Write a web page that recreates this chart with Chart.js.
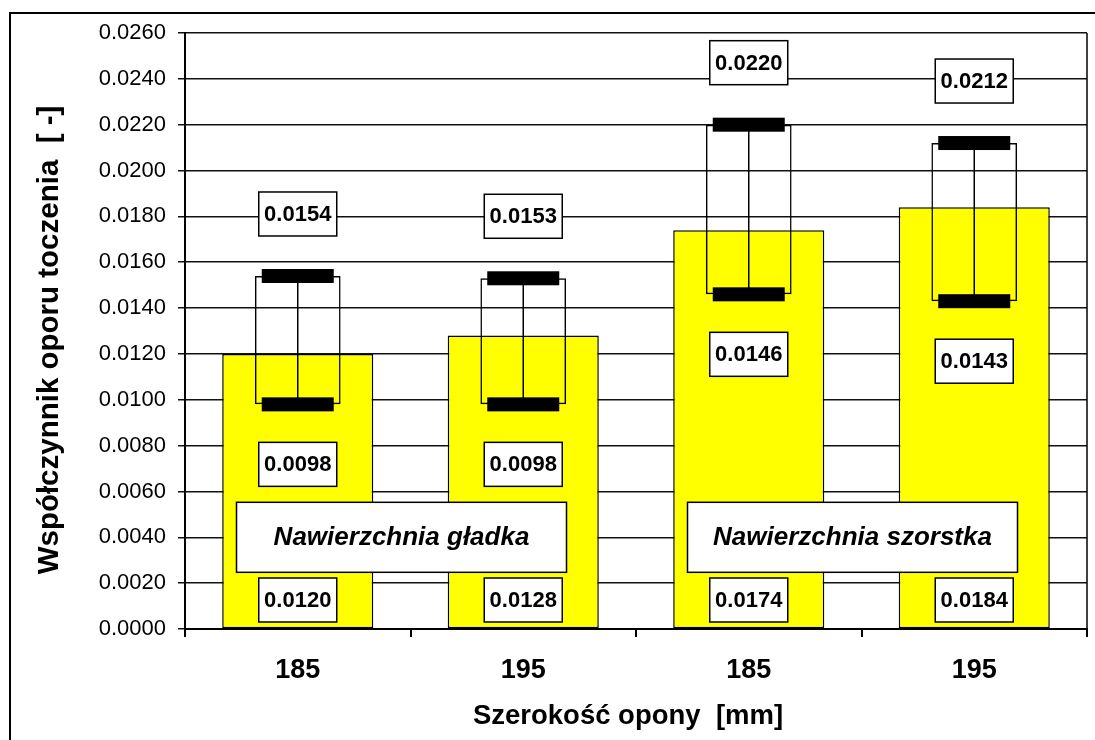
<!DOCTYPE html>
<html>
<head>
<meta charset="utf-8">
<script src="https://cdn.jsdelivr.net/npm/chart.js@4"></script>
<style>
  html, body { margin: 0; padding: 0; background: #fff; }
  #wrap { width: 1095px; height: 740px; }
</style>
</head>
<body>
<div id="wrap"><canvas id="myChart" width="1095" height="740"></canvas></div>
<script>
// data
const categories = ['185', '195', '185', '195'];
const meanValues = [0.0120, 0.0128, 0.0174, 0.0184];
const maxValues = [0.0154, 0.0153, 0.0220, 0.0212];
const minValues = [0.0098, 0.0098, 0.0146, 0.0143];
const surfaceLabels = ['Nawierzchnia gładka', 'Nawierzchnia szorstka'];
const surfaceGroups = [[0, 1], [2, 3]];
const xTitle = 'Szerokość opony  [mm]';
const yTitle = 'Współczynnik oporu toczenia  [ -]';

const FONT = "'Liberation Sans', Arial, sans-serif";

const fmt = v => v.toFixed(4);

function labelBox(ctx, text, cx, cy, w, h, font) {
  ctx.save();
  ctx.fillStyle = '#fff';
  ctx.strokeStyle = '#000';
  ctx.lineWidth = 1.5;
  ctx.fillRect(cx - w / 2, cy - h / 2, w, h);
  ctx.strokeRect(cx - w / 2, cy - h / 2, w, h);
  ctx.fillStyle = '#000';
  ctx.font = font;
  ctx.textAlign = 'center';
  ctx.textBaseline = 'middle';
  ctx.fillText(text, cx, cy + 1);
  ctx.restore();
}

// frame round the whole chart, right edge of the plot area, axis titles
const framePlugin = {
  id: 'frame',
  beforeDraw(chart) {
    const ctx = chart.ctx;
    ctx.save();
    ctx.strokeStyle = '#000';
    ctx.lineWidth = 2;
    ctx.strokeRect(10, 13, 1100, 760);
    ctx.restore();
  },
  afterDraw(chart) {
    const { ctx, chartArea } = chart;
    ctx.save();
    ctx.strokeStyle = '#000';
    ctx.lineWidth = 1.5;
    ctx.beginPath();
    ctx.moveTo(chartArea.right, chartArea.top);
    ctx.lineTo(chartArea.right, chartArea.bottom);
    ctx.stroke();

    ctx.fillStyle = '#000';
    ctx.textAlign = 'center';
    ctx.textBaseline = 'middle';
    ctx.font = 'bold 27.5px ' + FONT;
    ctx.fillText(xTitle, 628, 716);

    ctx.translate(50, 340);
    ctx.rotate(-Math.PI / 2);
    ctx.font = 'bold 29.5px ' + FONT;
    ctx.fillText(yTitle, 0, 0);
    ctx.restore();
  }
};

// whiskers, thick markers and value labels
const rangePlugin = {
  id: 'rangeMarks',
  afterDatasetsDraw(chart) {
    const { ctx, scales: { x, y }, chartArea } = chart;
    const labelFont = 'bold 22px ' + FONT;
    ctx.save();
    categories.forEach((c, i) => {
      const cx = x.getPixelForValue(i);
      const yHi = y.getPixelForValue(maxValues[i]);
      const yLo = y.getPixelForValue(minValues[i]);
      ctx.strokeStyle = '#000';
      ctx.lineWidth = 1.5;
      ctx.beginPath();
      ctx.moveTo(cx, yHi);
      ctx.lineTo(cx, yLo);
      ctx.stroke();
      ctx.fillStyle = '#000';
      ctx.fillRect(cx - 36, yHi - 7, 72, 14);
      ctx.fillRect(cx - 36, yLo - 7, 72, 14);
    });
    ctx.restore();

    surfaceGroups.forEach((g, k) => {
      const mid = (x.getPixelForValue(g[0]) + x.getPixelForValue(g[1])) / 2 - 9;
      labelBox(ctx, surfaceLabels[k], mid, y.getPixelForValue(0.004), 330, 70, 'italic bold 26px ' + FONT);
    });

    categories.forEach((c, i) => {
      const cx = x.getPixelForValue(i);
      labelBox(ctx, fmt(maxValues[i]), cx, y.getPixelForValue(maxValues[i]) - 62, 78, 44, labelFont);
      labelBox(ctx, fmt(minValues[i]), cx, y.getPixelForValue(minValues[i]) + 60, 78, 44, labelFont);
      labelBox(ctx, fmt(meanValues[i]), cx, chartArea.bottom - 29, 78, 44, labelFont);
    });
  }
};

const ctx = document.getElementById('myChart').getContext('2d');

new Chart(ctx, {
  type: 'bar',
  data: {
    labels: categories,
    datasets: [
      {
        label: 'Zakres',
        data: minValues.map((v, i) => [v, maxValues[i]]),
        backgroundColor: 'rgba(0,0,0,0)',
        borderColor: '#000',
        borderWidth: 1.5,
        borderSkipped: false,
        barPercentage: 0.38,
        categoryPercentage: 1,
        grouped: false,
        order: 0
      },
      {
        label: 'Średnia',
        data: meanValues,
        backgroundColor: '#ffff00',
        borderColor: '#000',
        borderWidth: 1.5,
        borderSkipped: false,
        barPercentage: 0.67,
        categoryPercentage: 1,
        grouped: false,
        order: 1
      }
    ]
  },
  options: {
    responsive: false,
    animation: false,
    events: [],
    layout: { padding: { left: 0, top: 33, right: 8, bottom: 0 } },
    plugins: {
      legend: { display: false },
      tooltip: { enabled: false }
    },
    scales: {
      x: {
        offset: true,
        grid: { offset: true, drawOnChartArea: false, drawTicks: true, tickLength: 8, color: '#000', lineWidth: 2 },
        border: { display: true, color: '#000', width: 2 },
        ticks: { color: '#000', font: { family: FONT, size: 27, weight: 'bold' }, padding: 17, maxRotation: 0 },
        afterFit(scale) { scale.height = 111; }
      },
      y: {
        min: 0,
        max: 0.026,
        grid: { color: '#111', lineWidth: 1.5, drawTicks: true, tickLength: 7 },
        border: { display: true, color: '#000', width: 2 },
        ticks: {
          stepSize: 0.002,
          color: '#000',
          padding: 12,
          font: { family: FONT, size: 22 },
          callback: v => fmt(v)
        },
        afterFit(scale) { scale.width = 185; }
      }
    }
  },
  plugins: [framePlugin, rangePlugin]
});
</script>
</body>
</html>
